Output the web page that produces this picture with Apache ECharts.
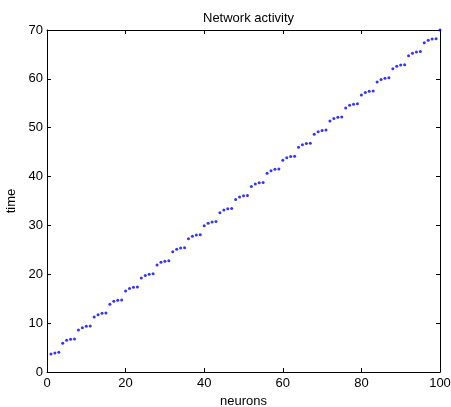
<!DOCTYPE html>
<html>
<head>
<meta charset="utf-8">
<script src="https://cdn.jsdelivr.net/npm/echarts@6/dist/echarts.min.js"></script>
<style>html,body{margin:0;padding:0;background:#fff;}#c{width:451px;height:407px;}</style>
</head>
<body>
<div id="c"></div>
<script>
const titleText = "Network activity";
const xName = "neurons";
const yName = "time";
const xTicks = [0, 20, 40, 60, 80, 100];
const yTicks = [0, 10, 20, 30, 40, 50, 60, 70];
const neurons = [];
for (let i = 1; i <= 100; i++) neurons.push(i);
const times = [
  3.70, 3.90, 4.03,
  5.87, 6.49, 6.69, 6.75,
  8.60, 9.07, 9.35, 9.41,
  11.26, 11.73, 12.00, 12.08,
  13.85, 14.47, 14.67, 14.74,
  16.57, 17.09, 17.34, 17.41,
  19.25, 19.77, 20.02, 20.09,
  21.92, 22.44, 22.69, 22.76,
  24.60, 25.12, 25.37, 25.44,
  27.27, 27.79, 28.04, 28.11,
  29.95, 30.47, 30.72, 30.79,
  32.62, 33.14, 33.39, 33.46,
  35.30, 35.82, 36.07, 36.14,
  37.97, 38.49, 38.74, 38.81,
  40.67, 41.20, 41.49, 41.55,
  43.32, 43.84, 44.09, 44.16,
  46.00, 46.52, 46.77, 46.84,
  48.67, 49.19, 49.44, 49.51,
  51.35, 51.87, 52.12, 52.19,
  54.05, 54.58, 54.82, 54.88,
  56.70, 57.22, 57.47, 57.54,
  59.37, 59.89, 60.14, 60.21,
  62.05, 62.57, 62.82, 62.89,
  64.75, 65.22, 65.49, 65.60,
  67.40, 67.90, 68.15, 68.20,
  70.00
];

const font = "'Liberation Sans', Arial, Helvetica, sans-serif";
const fs = 13;
const chart = echarts.init(document.getElementById('c'), null, {renderer: 'canvas'});
const axisCommon = {
  axisLine: {show: true, onZero: false, lineStyle: {color: '#000', width: 1}},
  axisTick: {show: true, inside: true, length: 4, lineStyle: {color: '#000', width: 1}},
  splitLine: {show: false}
};
chart.setOption({
  animation: false,
  backgroundColor: '#fff',
  title: {
    text: titleText, left: 198, top: 7,
    textStyle: {fontFamily: font, fontSize: fs, fontWeight: 'normal', color: '#000'}
  },
  grid: {left: 47, top: 30, right: 11, bottom: 35, containLabel: false, outerBoundsMode: 'none'},
  xAxis: [
    Object.assign({
      type: 'value', position: 'bottom', min: xTicks[0], max: xTicks[xTicks.length - 1], interval: 20,
      name: xName, nameLocation: 'middle', nameGap: 21,
      nameTextStyle: {fontFamily: font, fontSize: fs, color: '#000'},
      axisLabel: {fontFamily: font, fontSize: fs, color: '#000', margin: 5}
    }, axisCommon),
    Object.assign({
      type: 'value', position: 'top', min: xTicks[0], max: xTicks[xTicks.length - 1], interval: 20,
      axisLabel: {show: false}
    }, axisCommon)
  ],
  yAxis: [
    Object.assign({
      type: 'value', position: 'left', min: yTicks[0], max: yTicks[yTicks.length - 1], interval: 10,
      name: yName, nameLocation: 'middle', nameGap: 23,
      nameTextStyle: {fontFamily: font, fontSize: fs, color: '#000'},
      axisLabel: {fontFamily: font, fontSize: fs, color: '#000', margin: 4}
    }, axisCommon),
    Object.assign({
      type: 'value', position: 'right', min: yTicks[0], max: yTicks[yTicks.length - 1], interval: 10,
      axisLabel: {show: false}
    }, axisCommon)
  ],
  series: [{
    type: 'scatter',
    xAxisIndex: 0, yAxisIndex: 0,
    clip: false,
    symbol: 'circle',
    symbolSize: 3,
    itemStyle: {color: '#0000ff'},
    data: neurons.map((n, i) => [n, times[i]])
  }]
});
</script>
</body>
</html>
